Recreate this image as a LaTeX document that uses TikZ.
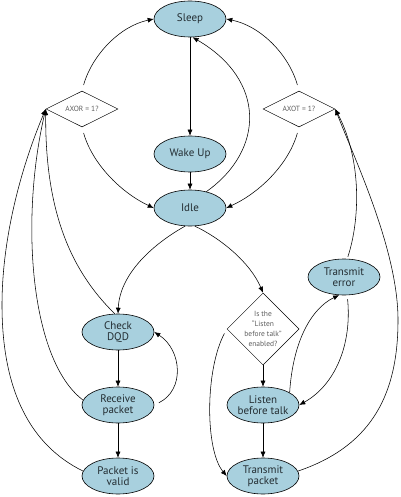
\documentclass[tikz,border=0pt]{standalone}
\usepackage{fontspec}
\setmainfont{PT Sans}
\usetikzlibrary{shapes.geometric,arrows.meta}
\definecolor{stfill}{RGB}{168,208,222}
\definecolor{sttext}{RGB}{35,45,50}
\definecolor{dtext}{RGB}{95,95,95}
\tikzset{
  state/.style={ellipse,draw=black,line width=0.6pt,fill=stfill,minimum width=72pt,minimum height=36pt,inner sep=0pt,
     align=center,text=sttext,font=\fontsize{11}{11.5}\selectfont},
  cond/.style={diamond,draw=black,line width=0.5pt,fill=white,minimum width=72pt,minimum height=36pt,inner sep=0pt,aspect=2},
  condtext/.style={text=dtext,font=\fontsize{7.5}{10}\selectfont,align=center},
  conn/.style={draw=black,line width=0.55pt,-{Latex[length=6pt,width=5pt]}},
}
\begin{document}
\begin{tikzpicture}[x=1pt,y=1pt]
\useasboundingbox (0,0) rectangle (400,-497);
\node[state] (sleep) at (190,-19) {Sleep};
\node[state] (wake) at (190,-154) {Wake Up};
\node[state] (idle) at (190,-208) {Idle};
\node[cond] (axor) at (82,-109) {};
\node[condtext] (axortxt) at (axor) {AXOR = 1?};
\node[cond] (axot) at (299,-109) {};
\node[condtext] (axottxt) at (axot) {AXOT = 1?};
\node[state] (check) at (118,-332) {Check\\DQD};
\node[state] (recv) at (118,-405) {Receive\\packet};
\node[state] (valid) at (118,-476) {Packet is\\valid};
\node[cond,minimum width=72pt,minimum height=72pt,aspect=1] (lbtq) at (263,-329) {};
\node[condtext] (lbtqtxt) at (lbtq) {Is the\\“Listen\\before talk”\\enabled?};
\node[state] (lbt) at (263,-405) {Listen\\before talk};
\node[state] (tpkt) at (263,-476) {Transmit\\packet};
\node[state] (terr) at (344,-277) {Transmit\\error};

% straight connectors
\draw[conn] (sleep.south) -- (wake.north);
\draw[conn] (wake.south) -- (idle.north);
\draw[conn] (check.south) -- (recv.north);
\draw[conn] (recv.south) -- (valid.north);
\draw[conn] (lbtq.south) -- (lbt.north);
\draw[conn] (lbt.south) -- (tpkt.north);

% idle back to sleep
\draw[conn] (idle.45) .. controls (265,-150) and (266,-80) .. (sleep.-82);

% AXOR / AXOT
\draw[conn,shorten <=6pt] (axor.north) .. controls (92,-55) and (120,-26) .. (sleep.west);
\draw[conn,shorten <=6pt] (axor.south) .. controls (92,-163) and (120,-192) .. (idle.west);
\draw[conn,shorten <=6pt] (axot.north) .. controls (289,-55) and (261,-26) .. (sleep.east);
\draw[conn,shorten <=6pt] (axot.south) .. controls (289,-163) and (261,-192) .. (idle.east);

% idle to check and to the question
\draw[conn] (idle.-105) .. controls (160,-240) and (120,-270) .. (check.north);
\draw[conn] (idle.-75) .. controls (220,-238) and (250,-262) .. (lbtq.north);

% back to AXOR
\draw[conn] (check.100) .. controls (70,-270) and (45,-210) .. (axor.west);
\draw[conn] (recv.172) .. controls (30,-360) and (20,-220) .. (axor.west);
\draw[conn] (valid.172) .. controls (30,-445) and (2,-390) .. (2,-305) .. controls (2,-240) and (20,-170) .. (axor.west);

% receive back to check
\draw[conn,shorten <=5pt] (recv.east) .. controls (185,-390) and (182,-350) .. (check.east);

% question to transmit packet
\draw[conn,shorten <=5pt] (lbtq.west) .. controls (205,-370) and (205,-450) .. (tpkt.west);

% listen <-> transmit error
\draw[conn] (lbt.25) .. controls (293,-340) and (312,-308) .. (terr.-105);
\draw[conn,shorten <=4pt] (terr.-80) .. controls (352,-345) and (335,-385) .. (lbt.east);

% back to AXOT
\draw[conn,shorten <=2pt] (terr.80) .. controls (360,-220) and (362,-160) .. (axot.east);
\draw[conn] (tpkt.8) .. controls (375,-445) and (398,-390) .. (398,-320) .. controls (398,-250) and (355,-160) .. (axot.east);
\end{tikzpicture}
\end{document}
